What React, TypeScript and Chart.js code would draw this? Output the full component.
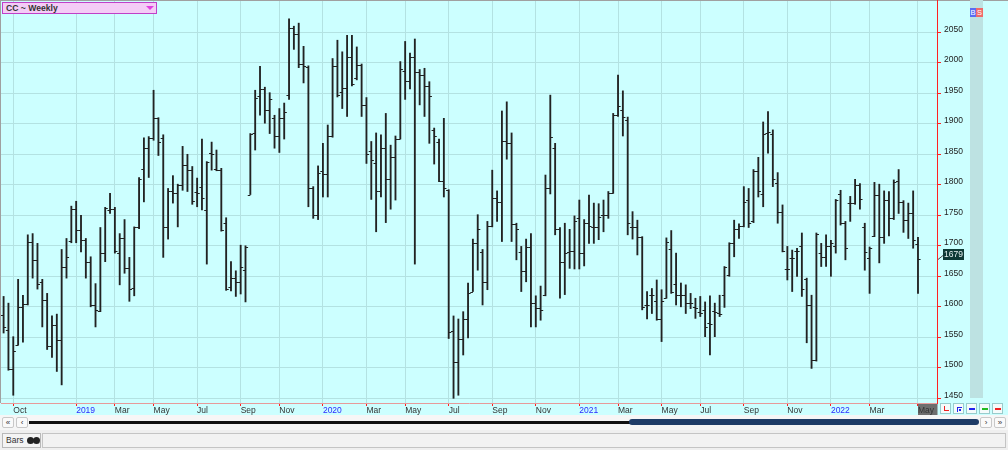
import React, { useEffect, useRef } from "react";
import { Chart, registerables } from "chart.js";
Chart.register(...registerables);

// ---- data (weekly OHLC, index 0 = week of 21 Sep 2018) ----
const opens = [
  1586, 1562, 1498, 1538, 1600, 1605, 1707, 1677, 1640, 1611, 1535, 1570, 1546, 1665, 1708, 1761, 1726, 1710, 1674, 1603,
  1593, 1688, 1758, 1760, 1688, 1712, 1664, 1631, 1730, 1826, 1860, 1877, 1910, 1876, 1730, 1790, 1786, 1800, 1833, 1824,
  1789, 1797, 1759, 1852, 1826, 1824, 1737, 1633, 1648, 1641, 1660, 1784, 1885, 1945, 1957, 1923, 1910, 1880, 1910, 1948,
  2057, 2048, 1998, 1993, 1795, 1750, 1822, 1818, 1880, 1995, 1952, 1958, 2010, 1975, 1996, 1930, 1856, 1835, 1790, 1860,
  1810, 1845, 1875, 1986, 1970, 2010, 1985, 1980, 1962, 1890, 1870, 1806, 1791, 1560, 1510, 1548, 1580, 1625, 1705, 1690,
  1640, 1732, 1778, 1772, 1871, 1868, 1735, 1690, 1659, 1698, 1606, 1598, 1620, 1795, 1860, 1728, 1674, 1690, 1692, 1745,
  1689, 1737, 1730, 1730, 1750, 1750, 1787, 1914, 1922, 1907, 1730, 1730, 1714, 1603, 1620, 1610, 1580, 1615, 1695, 1637,
  1620, 1620, 1606, 1600, 1592, 1595, 1573, 1593, 1590, 1620, 1652, 1704, 1727, 1732, 1775, 1740, 1822, 1785, 1885, 1884,
  1803, 1756, 1662, 1680, 1692, 1700, 1645, 1603, 1513, 1688, 1682, 1700, 1700, 1785, 1737, 1770, 1770, 1800, 1730, 1680,
  1716, 1783, 1715, 1775, 1745, 1806, 1772, 1742, 1753, 1703,
];
const highs = [
  1617, 1606, 1551, 1645, 1619, 1718, 1720, 1704, 1645, 1622, 1585, 1588, 1694, 1712, 1765, 1773, 1750, 1712, 1682, 1638,
  1730, 1763, 1786, 1763, 1720, 1743, 1681, 1731, 1812, 1877, 1879, 1955, 1910, 1882, 1794, 1815, 1801, 1863, 1850, 1830,
  1811, 1875, 1838, 1870, 1857, 1827, 1746, 1674, 1659, 1701, 1700, 1884, 1955, 1994, 1960, 1951, 1914, 1925, 1934, 2072,
  2060, 2065, 2027, 1995, 1797, 1831, 1868, 1898, 2007, 2037, 2018, 2045, 2045, 2026, 1998, 1943, 1871, 1885, 1882, 1917,
  1865, 1880, 2002, 2035, 2016, 2039, 1989, 1991, 1969, 1893, 1875, 1909, 1792, 1585, 1580, 1592, 1639, 1711, 1751, 1694,
  1740, 1824, 1790, 1921, 1936, 1885, 1737, 1699, 1711, 1720, 1618, 1634, 1816, 1947, 1868, 1730, 1737, 1727, 1749, 1775,
  1743, 1783, 1770, 1769, 1775, 1789, 1917, 1980, 1954, 1911, 1756, 1742, 1715, 1625, 1630, 1644, 1628, 1713, 1725, 1688,
  1639, 1636, 1622, 1614, 1617, 1608, 1618, 1606, 1619, 1666, 1705, 1742, 1736, 1797, 1794, 1825, 1845, 1903, 1920, 1890,
  1820, 1767, 1699, 1693, 1696, 1721, 1647, 1619, 1721, 1704, 1718, 1709, 1776, 1791, 1740, 1781, 1809, 1802, 1737, 1698,
  1804, 1801, 1790, 1789, 1808, 1825, 1774, 1770, 1790, 1714,
];
const lows = [
  1557, 1496, 1455, 1537, 1542, 1603, 1647, 1629, 1567, 1530, 1517, 1494, 1472, 1647, 1705, 1705, 1690, 1647, 1600, 1567,
  1592, 1674, 1753, 1688, 1636, 1655, 1609, 1618, 1728, 1772, 1812, 1873, 1848, 1681, 1711, 1770, 1731, 1791, 1789, 1768,
  1764, 1759, 1670, 1824, 1823, 1724, 1627, 1626, 1617, 1621, 1608, 1784, 1857, 1914, 1901, 1884, 1860, 1853, 1875, 1940,
  2022, 1992, 1967, 1764, 1745, 1743, 1780, 1780, 1878, 1944, 1925, 1912, 1962, 1972, 1912, 1835, 1776, 1723, 1780, 1738,
  1760, 1775, 1875, 1940, 1957, 1670, 1931, 1912, 1868, 1834, 1805, 1780, 1548, 1450, 1455, 1521, 1549, 1625, 1660, 1603,
  1628, 1731, 1740, 1707, 1842, 1707, 1677, 1625, 1641, 1567, 1567, 1578, 1618, 1785, 1718, 1614, 1620, 1663, 1662, 1662,
  1667, 1704, 1704, 1710, 1723, 1745, 1786, 1912, 1880, 1718, 1711, 1685, 1595, 1580, 1589, 1578, 1543, 1614, 1622, 1603,
  1600, 1589, 1597, 1581, 1584, 1551, 1521, 1551, 1584, 1599, 1650, 1682, 1712, 1731, 1730, 1738, 1780, 1764, 1852, 1797,
  1737, 1690, 1644, 1625, 1650, 1617, 1541, 1499, 1511, 1666, 1666, 1650, 1688, 1734, 1677, 1740, 1768, 1760, 1660, 1622,
  1715, 1672, 1704, 1716, 1743, 1753, 1722, 1712, 1696, 1622,
];
const closes = [
  1567, 1498, 1528, 1600, 1605, 1707, 1677, 1638, 1611, 1535, 1570, 1546, 1665, 1682, 1761, 1726, 1710, 1674, 1603, 1594,
  1688, 1762, 1760, 1692, 1712, 1664, 1629, 1730, 1810, 1860, 1877, 1910, 1870, 1730, 1790, 1786, 1800, 1832, 1824, 1774,
  1786, 1779, 1838, 1851, 1824, 1726, 1630, 1648, 1641, 1666, 1698, 1884, 1942, 1957, 1923, 1940, 1880, 1910, 1920, 2057,
  2048, 1998, 1995, 1795, 1750, 1820, 1818, 1880, 1995, 1948, 1958, 2010, 1966, 1996, 1930, 1850, 1840, 1790, 1860, 1810,
  1845, 1875, 1990, 1970, 2010, 1985, 1980, 1962, 1946, 1880, 1806, 1794, 1559, 1510, 1548, 1580, 1622, 1705, 1727, 1640,
  1732, 1778, 1772, 1871, 1868, 1735, 1727, 1659, 1698, 1606, 1598, 1594, 1795, 1878, 1728, 1674, 1688, 1692, 1740, 1689,
  1737, 1732, 1730, 1747, 1750, 1786, 1914, 1929, 1911, 1738, 1730, 1714, 1599, 1603, 1620, 1580, 1610, 1706, 1625, 1620,
  1620, 1606, 1606, 1598, 1590, 1567, 1572, 1592, 1588, 1665, 1704, 1727, 1732, 1772, 1737, 1822, 1790, 1884, 1887, 1809,
  1756, 1692, 1662, 1680, 1692, 1629, 1603, 1513, 1720, 1682, 1700, 1705, 1775, 1737, 1696, 1770, 1800, 1776, 1690, 1696,
  1783, 1715, 1775, 1745, 1805, 1772, 1742, 1753, 1710, 1679,
];

const monthTickIndex = [2, 15, 23, 31, 40, 49, 57, 66, 75, 83, 92, 101, 110, 119, 127, 136, 144, 153, 162, 171, 179, 189];
const monthTickLabels = [
  "Oct", "2019", "Mar", "May", "Jul", "Sep", "Nov", "2020", "Mar", "May", "Jul", "Sep", "Nov",
  "2021", "Mar", "May", "Jul", "Sep", "Nov", "2022", "Mar", "May",
];
const yTickValues = [1450, 1500, 1550, 1600, 1650, 1700, 1750, 1800, 1850, 1900, 1950, 2000, 2050];

const BG = "#ccffff";
const GRID = "#b3e2e2";
const FONT = "'Liberation Sans', Arial, sans-serif";

export default function App() {
  const ref = useRef<HTMLCanvasElement | null>(null);

  useEffect(() => {
    const canvas = ref.current;
    if (!canvas) return;
    const n = closes.length;

    const decor = {
      id: "decor",
      beforeDraw(chart: any) {
        const c = chart.ctx;
        c.save();
        c.fillStyle = BG;
        c.fillRect(0, 0, chart.width, chart.height);
        c.fillStyle = "#6e6e6e";
        c.fillRect(918, 403, 19.5, 12);
        c.restore();
      },
      afterDatasetsDraw(chart: any) {
        const c = chart.ctx;
        const xs = chart.scales.x;
        const ys = chart.scales.y;
        const a = chart.chartArea;
        c.save();
        c.beginPath();
        c.rect(a.left, a.top, a.right - a.left, a.bottom - a.top);
        c.clip();
        c.strokeStyle = "#202020";
        c.lineWidth = 1;
        c.beginPath();
        for (let i = 0; i < n; i++) {
          const px = xs.getPixelForValue(i);
          const yo = Math.round(ys.getPixelForValue(opens[i])) + 0.5;
          const yc = Math.round(ys.getPixelForValue(closes[i])) + 0.5;
          c.moveTo(px - 2.6, yo);
          c.lineTo(px, yo);
          c.moveTo(px, yc);
          c.lineTo(px + 2.6, yc);
        }
        c.stroke();
        c.restore();
      },
      afterDraw(chart: any) {
        const c = chart.ctx;
        const ys = chart.scales.y;
        const a = chart.chartArea;
        c.save();
        c.fillStyle = "#a0a0a0";
        c.fillRect(0, 0, chart.width, 1);
        c.fillRect(0, 0, 1, a.bottom);
        c.fillStyle = "#ff2020";
        c.fillRect(Math.round(a.right), 0, 1, a.bottom);
        const last = closes[n - 1];
        const y = Math.round(ys.getPixelForValue(last));
        c.strokeStyle = "#444";
        c.lineWidth = 1;
        c.beginPath();
        c.moveTo(a.right + 1, y + 0.5);
        c.lineTo(a.right + 6, y - 3.5);
        c.stroke();
        c.fillStyle = "#0d3a36";
        c.fillRect(943, y - 10, 21, 11);
        c.fillStyle = "#e6f2f2";
        c.font = `8.5px ${FONT}`;
        c.textAlign = "center";
        c.textBaseline = "middle";
        c.fillText(String(last), 953.5, y - 4.3);
        c.restore();
      },
    };

    const chart = new Chart(canvas, {
      type: "bar",
      data: {
        datasets: [
          {
            data: highs.map((h, i) => ({ x: i, y: [lows[i], h] })) as any,
            backgroundColor: "#222222",
            borderWidth: 0,
            barThickness: 1.2,
          },
        ],
      },
      options: {
        animation: false,
        responsive: false,
        devicePixelRatio: 1,
        events: [],
        layout: { padding: { left: 1, top: 1, right: 0, bottom: 0 } },
        plugins: { legend: { display: false }, tooltip: { enabled: false } },
        scales: {
          x: {
            type: "linear",
            position: "bottom",
            min: -0.537,
            max: 192.93,
            offset: false,
            afterBuildTicks: (s: any) => {
              s.ticks = monthTickIndex.map((v) => ({ value: v }));
            },
            afterFit: (s: any) => {
              s.height = 12;
              s.paddingLeft = 0;
              s.paddingRight = 0;
              s.paddingTop = 0;
              s.paddingBottom = 0;
            },
            ticks: {
              autoSkip: false,
              maxRotation: 0,
              minRotation: 0,
              align: "start",
              padding: 0,
              font: { family: FONT, size: 8.5 },
              color: (ctx: any) => (/^\d{4}$/.test(monthTickLabels[ctx.index] || "") ? "#2a2aff" : "#333333"),
              callback: (_v: any, i: number) => monthTickLabels[i],
            },
            grid: {
              color: GRID,
              tickColor: "#ff2020",
              tickLength: 3,
              offset: false,
              drawOnChartArea: true,
            },
            border: { color: "#e79a9a" },
          },
          y: {
            type: "linear",
            position: "right",
            min: 1442.3,
            max: 2101.3,
            afterBuildTicks: (s: any) => {
              s.ticks = yTickValues.map((v) => ({ value: v }));
            },
            afterFit: (s: any) => {
              s.width = 71;
              s.paddingTop = 0;
              s.paddingBottom = 0;
              s.paddingLeft = 0;
              s.paddingRight = 0;
            },
            ticks: {
              padding: 3,
              labelOffset: -3,
              color: "#222222",
              font: { family: FONT, size: 8.5 },
              callback: (v: any) => String(v),
            },
            grid: { color: GRID, tickColor: "#ff2020", tickLength: 4 },
            border: { color: "#ff2020" },
          },
        },
      },
      plugins: [decor],
    });
    return () => chart.destroy();
  }, []);

  const btn: React.CSSProperties = {
    position: "absolute",
    top: 403,
    width: 11,
    height: 11,
    background: "#f4fbfb",
    border: "1px solid #9cc",
    boxSizing: "border-box",
  };
  const sbtn: React.CSSProperties = {
    position: "absolute",
    top: 417,
    width: 12,
    height: 11,
    background: "#fafafa",
    border: "1px solid #c8c8c8",
    borderRadius: 2,
    boxSizing: "border-box",
    fontSize: 8,
    lineHeight: "9px",
    textAlign: "center",
    color: "#333",
  };

  return (
    <div
      style={{
        position: "fixed",
        left: 0,
        top: 0,
        width: 1008,
        height: 450,
        background: "#efefef",
        overflow: "hidden",
        fontFamily: FONT,
      }}
    >
      <canvas ref={ref} width={1008} height={415} style={{ position: "absolute", left: 0, top: 0, width: 1008, height: 415 }} />
      <div
        style={{
          position: "absolute",
          left: 2,
          top: 2,
          width: 155,
          height: 12,
          background: "#f4ccf6",
          border: "1px solid #c040c8",
          boxSizing: "border-box",
          fontSize: 8.6,
          fontWeight: "bold",
          color: "#333",
          lineHeight: "10px",
          paddingLeft: 3,
        }}
      >
        CC ~ Weekly
        <div
          style={{
            position: "absolute",
            right: 2,
            top: 3,
            width: 0,
            height: 0,
            borderLeft: "4px solid transparent",
            borderRight: "4px solid transparent",
            borderTop: "4px solid #e040e0",
          }}
        />
      </div>
      <div style={{ position: "absolute", left: 970, top: 0, width: 13, height: 398, background: "#bde2e2" }} />
      <div
        style={{
          position: "absolute",
          left: 970,
          top: 8,
          width: 6,
          height: 9,
          background: "#5a6cf2",
          color: "#fff",
          fontSize: 7.5,
          lineHeight: "9px",
          textAlign: "center",
        }}
      >
        B
      </div>
      <div
        style={{
          position: "absolute",
          left: 976,
          top: 8,
          width: 7,
          height: 9,
          background: "#f06a6a",
          color: "#fff",
          fontSize: 7.5,
          lineHeight: "9px",
          textAlign: "center",
        }}
      >
        S
      </div>
      <div style={{ ...btn, left: 940 }}>
        <div style={{ position: "absolute", left: 3, top: 2, width: 1, height: 5, background: "#e22" }} />
        <div style={{ position: "absolute", left: 3, top: 6, width: 5, height: 1, background: "#e22" }} />
      </div>
      <div style={{ ...btn, left: 953 }}>
        <div style={{ position: "absolute", left: 3, top: 3, width: 5, height: 1, background: "#22e" }} />
        <div style={{ position: "absolute", left: 3, top: 3, width: 1, height: 5, background: "#22e" }} />
        <div style={{ position: "absolute", left: 5, top: 5, width: 2, height: 2, background: "#22e" }} />
      </div>
      <div style={{ ...btn, left: 966 }}>
        <div style={{ position: "absolute", left: 2, top: 4, width: 6, height: 2, background: "#22e" }} />
      </div>
      <div style={{ ...btn, left: 979 }}>
        <div style={{ position: "absolute", left: 2, top: 4, width: 6, height: 2, background: "#2b2" }} />
      </div>
      <div style={{ ...btn, left: 992 }}>
        <div style={{ position: "absolute", left: 2, top: 4, width: 6, height: 2, background: "#e22" }} />
      </div>
      <div style={{ position: "absolute", left: 0, top: 415, width: 1008, height: 15, background: "#f6f6f6" }} />
      <div style={{ ...sbtn, left: 2 }}>«</div>
      <div style={{ ...sbtn, left: 16 }}>‹</div>
      <div style={{ position: "absolute", left: 29, top: 421, width: 602, height: 2.5, background: "#111" }} />
      <div
        style={{
          position: "absolute",
          left: 629,
          top: 419,
          width: 350,
          height: 6,
          background: "#1f3d68",
          borderRadius: 3,
        }}
      />
      <div style={{ ...sbtn, left: 980 }}>›</div>
      <div style={{ ...sbtn, left: 994 }}>»</div>
      <div
        style={{
          position: "absolute",
          left: 2,
          top: 433,
          width: 39,
          height: 15,
          background: "#f4f4f4",
          border: "1px solid #b8b8b8",
          boxSizing: "border-box",
          fontSize: 8.5,
          lineHeight: "13px",
          paddingLeft: 3,
          color: "#333",
        }}
      >
        Bars
        <span
          style={{
            position: "absolute",
            left: 24,
            top: 3,
            width: 7,
            height: 7,
            borderRadius: 4,
            background: "#222",
          }}
        />
        <span
          style={{
            position: "absolute",
            left: 30,
            top: 3,
            width: 7,
            height: 7,
            borderRadius: 4,
            background: "#222",
          }}
        />
      </div>
      <div
        style={{
          position: "absolute",
          left: 42,
          top: 433,
          width: 964,
          height: 15,
          background: "#f2f2f2",
          border: "1px solid #c4c4c4",
          boxSizing: "border-box",
        }}
      />
    </div>
  );
}
